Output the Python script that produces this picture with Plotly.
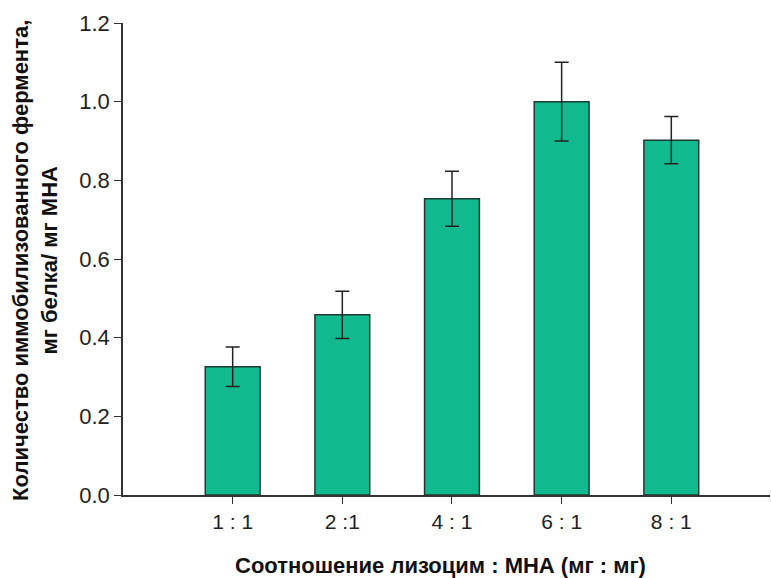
import plotly.graph_objects as go

categories = ["1 : 1", "2 :1", "4 : 1", "6 : 1", "8 : 1"]
values = [0.326, 0.458, 0.753, 1.0, 0.902]
errors = [0.05, 0.06, 0.07, 0.10, 0.06]

x_idx = list(range(len(categories)))

fig = go.Figure()
fig.add_trace(go.Bar(
    x=x_idx, y=values, width=0.5,
    marker=dict(color="#10BA8E", line=dict(color="#1E3A33", width=1.5)),
    error_y=dict(type="data", array=errors, visible=True, color="#222222",
                 thickness=1.5, width=7),
))

font_family = "Liberation Sans, Arial, sans-serif"

fig.update_layout(
    width=771, height=578,
    margin=dict(l=123, r=1, t=23, b=83),
    plot_bgcolor="white", paper_bgcolor="white",
    showlegend=False,
    font=dict(family=font_family, color="#222222"),
    xaxis=dict(
        range=[-1.0, 4.9],
        tickmode="array", tickvals=x_idx, ticktext=categories,
        ticks="outside", ticklen=7, tickcolor="#333333", tickwidth=1.2,
        showline=True, linecolor="#333333", linewidth=1.5,
        showgrid=False, zeroline=False,
        tickfont=dict(size=21, family=font_family, color="#222222"),
    ),
    yaxis=dict(
        range=[0, 1.2],
        tickmode="array", tickvals=[0, 0.2, 0.4, 0.6, 0.8, 1.0, 1.2],
        ticktext=["0.0", "0.2", "0.4", "0.6", "0.8", "1.0", "1.2"],
        ticks="outside", ticklen=7, tickcolor="#333333", tickwidth=1.2,
        showline=True, linecolor="#333333", linewidth=1.5,
        showgrid=False, zeroline=False,
        tickfont=dict(size=22, family=font_family, color="#222222"),
    ),
    annotations=[
        dict(
            text="<b>Количество иммобилизованного фермента,</b><br><b>мг белка/ мг МНА</b>",
            xref="paper", yref="paper", x=0, y=0.496,
            xshift=-88, xanchor="center", yanchor="middle",
            textangle=-90, showarrow=False,
            font=dict(size=22, family=font_family, color="#111111"),
        ),
        dict(
            text="<b>Соотношение лизоцим : МНА (мг : мг)</b>",
            xref="paper", yref="paper", x=0.49, y=0,
            yshift=-70, xanchor="center", yanchor="middle",
            showarrow=False,
            font=dict(size=22, family=font_family, color="#111111"),
        ),
    ],
)

fig.write_html("out.html")
